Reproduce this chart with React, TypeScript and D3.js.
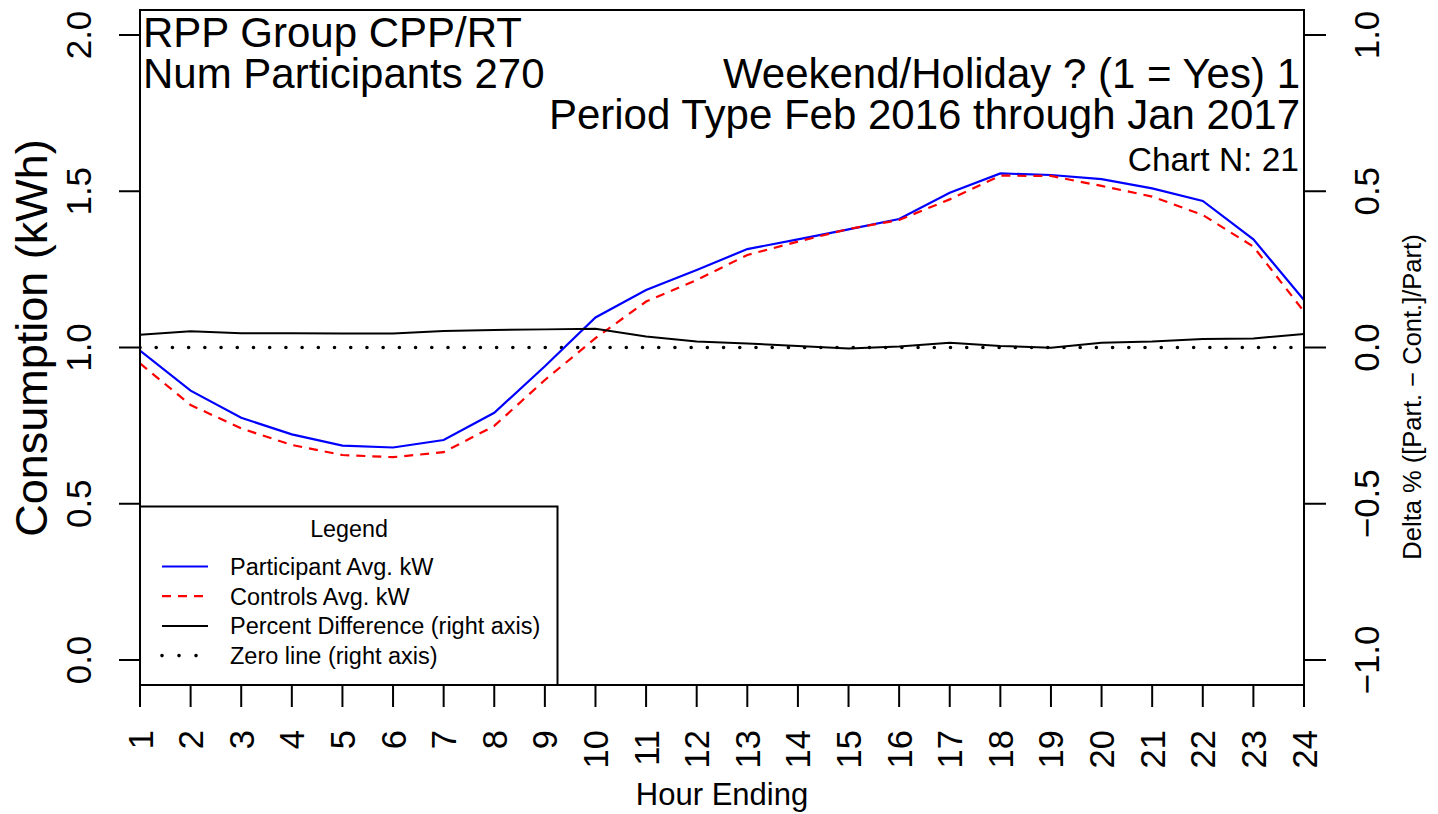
import React from "react";
import * as d3 from "d3";

const hours = d3.range(1, 25);
const participant = [0.990, 0.862, 0.775, 0.722, 0.686, 0.680, 0.704, 0.791, 0.940, 1.096, 1.184, 1.248, 1.315, 1.346, 1.378, 1.411, 1.495, 1.557, 1.552, 1.539, 1.509, 1.469, 1.346, 1.152];
const controls = [0.949, 0.816, 0.741, 0.688, 0.656, 0.649, 0.665, 0.749, 0.896, 1.030, 1.147, 1.216, 1.296, 1.339, 1.379, 1.408, 1.474, 1.550, 1.549, 1.517, 1.483, 1.424, 1.323, 1.115];
const pctDiff = [0.041, 0.052, 0.046, 0.046, 0.045, 0.045, 0.053, 0.056, 0.058, 0.060, 0.035, 0.019, 0.013, 0.005, -0.003, 0.003, 0.015, 0.005, -0.001, 0.015, 0.019, 0.027, 0.029, 0.043];
const zeroLine = hours.map(() => 0);
const leftTicks = [0, 0.5, 1.0, 1.5, 2.0];
const rightTicks = [-1.0, -0.5, 0.0, 0.5, 1.0];

const headerLeft = ["RPP Group CPP/RT", "Num Participants 270"];
const headerRight = ["Weekend/Holiday ? (1 = Yes) 1", "Period Type Feb 2016 through Jan 2017"];
const chartN = "Chart N: 21";

const legendItems = [
  { label: "Participant Avg. kW", color: "#0000ff", dash: "none", width: 2.2, cap: "butt" },
  { label: "Controls Avg. kW", color: "#ff0000", dash: "9,7", width: 2.2, cap: "butt" },
  { label: "Percent Difference (right axis)", color: "#000000", dash: "none", width: 2, cap: "butt" },
  { label: "Zero line (right axis)", color: "#000000", dash: "0.01,17", width: 3.6, cap: "round" },
];

const FONT = "'Liberation Sans', Arial, Helvetica, sans-serif";

export default function App() {
  const W = 1438, H = 814;
  const L = 140, R = 1304, T = 10, B = 685;
  const x = d3.scaleLinear().domain([1, 24]).range([L, R]);
  const y = d3.scaleLinear().domain([-0.08, 2.08]).range([B, T]);
  const y2 = d3.scaleLinear().domain([-1.08, 1.08]).range([B, T]);

  const lineL = d3.line<number>().x((_, i) => x(hours[i])).y((d) => y(d));
  const lineR = d3.line<number>().x((_, i) => x(hours[i])).y((d) => y2(d));
  const fmt = d3.format(".1f");
  const fmtR = (v: number) => (v < 0 ? "\u2212" + fmt(-v) : fmt(v));

  return (
    <svg width={W} height={H} style={{ position: "absolute", left: 0, top: 0, background: "#fff" }} fontFamily={FONT}>
      <rect x={0} y={0} width={W} height={H} fill="#fff" />
      <defs>
        <clipPath id="plot">
          <rect x={L} y={T} width={R - L} height={B - T} />
        </clipPath>
      </defs>

      {/* lines */}
      <g clipPath="url(#plot)" fill="none">
        <path d={lineR(zeroLine) || ""} stroke="#000" strokeWidth={3.6} strokeDasharray="0.01,16.2" strokeLinecap="round" />
        <path d={lineL(participant) || ""} stroke="#0000ff" strokeWidth={2.2} />
        <path d={lineL(controls) || ""} stroke="#ff0000" strokeWidth={2.2} strokeDasharray="9,7" />
        <path d={lineR(pctDiff) || ""} stroke="#000" strokeWidth={2} />
      </g>

      {/* header texts */}
      <g fontSize={42} fill="#000">
        {headerLeft.map((t, i) => (
          <text key={t} x={L + 3} y={46.5 + i * 41.2}>{t}</text>
        ))}
        {headerRight.map((t, i) => (
          <text key={t} x={R - 4} y={87.7 + i * 41.2} textAnchor="end">{t}</text>
        ))}
      </g>
      <text x={R - 5} y={171} fontSize={33.5} textAnchor="end">{chartN}</text>

      {/* legend */}
      <g>
        <rect x={L} y={506.5} width={417.5} height={B - 506.5} fill="#fff" stroke="#000" strokeWidth={2} />
        <text x={349} y={536.5} fontSize={23.3} textAnchor="middle">Legend</text>
        {legendItems.map((it, i) => (
          <g key={it.label}>
            <line x1={162} x2={208} y1={566.5 + i * 29.7} y2={566.5 + i * 29.7} stroke={it.color} strokeWidth={it.width}
              strokeDasharray={it.dash === "none" ? undefined : it.dash} strokeLinecap={it.cap as any} />
            <text x={230} y={575 + i * 29.7} fontSize={23.5}>{it.label}</text>
          </g>
        ))}
      </g>

      {/* box */}
      <rect x={L} y={T} width={R - L} height={B - T} fill="none" stroke="#000" strokeWidth={2} />

      {/* left axis */}
      <g>
        {leftTicks.map((v) => (
          <g key={"l" + v}>
            <line x1={L - 21} x2={L} y1={y(v)} y2={y(v)} stroke="#000" strokeWidth={2} />
            <text transform={`translate(91,${y(v)}) rotate(-90)`} textAnchor="middle" fontSize={35}>{fmt(v)}</text>
          </g>
        ))}
        <text transform={`translate(47,338) rotate(-90)`} textAnchor="middle" fontSize={45}>Consumption (kWh)</text>
      </g>

      {/* right axis */}
      <g>
        {rightTicks.map((v) => (
          <g key={"r" + v}>
            <line x1={R} x2={R + 22} y1={y2(v)} y2={y2(v)} stroke="#000" strokeWidth={2} />
            <text transform={`translate(1379,${y2(v)}) rotate(-90)`} textAnchor="middle" fontSize={35}>{fmtR(v)}</text>
          </g>
        ))}
        <text transform={`translate(1421,397) rotate(-90)`} textAnchor="middle" fontSize={25.5}>
          Delta % ([Part. {"\u2212"} Cont.]/Part)
        </text>
      </g>

      {/* bottom axis */}
      <g>
        {hours.map((h) => (
          <g key={"b" + h}>
            <line x1={x(h)} x2={x(h)} y1={B} y2={B + 22} stroke="#000" strokeWidth={2} />
            <text transform={`translate(${x(h) + 12.5},730) rotate(-90)`} textAnchor="end" fontSize={34.5}>{h}</text>
          </g>
        ))}
        <text x={(L + R) / 2} y={805} textAnchor="middle" fontSize={31}>Hour Ending</text>
      </g>
    </svg>
  );
}
